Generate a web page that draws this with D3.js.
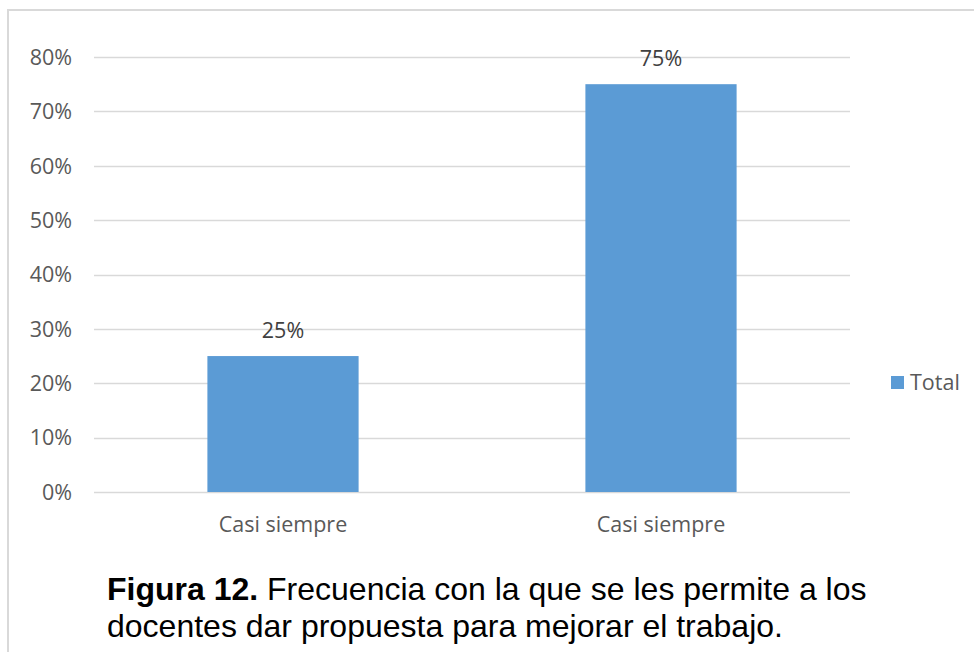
<!DOCTYPE html>
<html>
<head>
<meta charset="utf-8">
<script src="https://cdn.jsdelivr.net/npm/d3@7"></script>
<style>
  html, body { margin: 0; padding: 0; background: #fff; }
  svg { display: block; }
</style>
</head>
<body>
<svg id="chart" width="974" height="652"></svg>
<script>
// Chart data
const categories = ["Casi siempre", "Casi siempre "];
const totals = [0.25, 0.75];
const yTicks = [0, 0.1, 0.2, 0.3, 0.4, 0.5, 0.6, 0.7, 0.8];
const seriesName = "Total";
const captionBold = "Figura 12.";
const captionLine1 = " Frecuencia con la que se les permite a los";
const captionLine2 = "docentes dar propuesta para mejorar el trabajo.";

const svg = d3.select("#chart");
const font = "'Open Sans', sans-serif";
const fontSize = 21.5;
const barColor = "#5b9bd5";
const textColor = "#595959";

// Chart frame (top and left edges)
svg.append("path")
  .attr("d", "M8,652 L8,10 L974,10")
  .attr("fill", "none")
  .attr("stroke", "#d9d9d9")
  .attr("stroke-width", 2);

const plot = { left: 94, right: 850, top: 57, bottom: 492 };

const x = d3.scaleBand()
  .domain(categories)
  .range([plot.left, plot.right])
  .paddingInner(0.6)
  .paddingOuter(0.3);

const y = d3.scaleLinear()
  .domain([0, 0.8])
  .range([plot.bottom, plot.top]);

// Horizontal gridlines
svg.append("g")
  .selectAll("line")
  .data(yTicks)
  .join("line")
  .attr("x1", plot.left)
  .attr("x2", plot.right)
  .attr("y1", d => Math.round(y(d)) + 0.5)
  .attr("y2", d => Math.round(y(d)) + 0.5)
  .attr("stroke", "#d9d9d9")
  .attr("stroke-width", 1.5);

// Y axis labels
const yAxis = d3.axisLeft(y)
  .tickValues(yTicks)
  .tickFormat(d3.format(".0%"))
  .tickSize(0)
  .tickPadding(0);
const gy = svg.append("g")
  .attr("transform", `translate(72,0)`)
  .call(yAxis);
gy.select(".domain").remove();
gy.selectAll("text")
  .attr("fill", textColor)
  .attr("font-family", font)
  .attr("font-size", fontSize)
  .attr("dy", "0.34em");

// Bars
svg.append("g")
  .selectAll("rect")
  .data(totals)
  .join("rect")
  .attr("x", (d, i) => x(categories[i]))
  .attr("width", x.bandwidth())
  .attr("y", d => y(d))
  .attr("height", d => y(0) - y(d))
  .attr("fill", barColor);

// Value labels
svg.append("g")
  .selectAll("text")
  .data(totals)
  .join("text")
  .attr("x", (d, i) => x(categories[i]) + x.bandwidth() / 2)
  .attr("y", d => y(d) - 18.5)
  .attr("text-anchor", "middle")
  .attr("fill", "#404040")
  .attr("font-family", font)
  .attr("font-size", fontSize)
  .text(d => d3.format(".0%")(d));

// Category labels
const xAxis = d3.axisBottom(x).tickSize(0).tickPadding(0);
const gx = svg.append("g")
  .attr("transform", `translate(0,${plot.bottom})`)
  .call(xAxis);
gx.select(".domain").remove();
gx.selectAll("text")
  .attr("fill", textColor)
  .attr("font-family", font)
  .attr("font-size", fontSize)
  .attr("dy", null)
  .attr("y", 40)
  .text(d => d.trim());

// Legend
const legend = svg.append("g").attr("transform", "translate(891,376)");
legend.append("rect")
  .attr("width", 13).attr("height", 13)
  .attr("fill", barColor);
legend.append("text")
  .attr("x", 19).attr("y", 13.5)
  .attr("fill", textColor)
  .attr("font-family", font)
  .attr("font-size", fontSize)
  .text(seriesName);

// Caption
const cap = svg.append("text")
  .attr("font-family", "'Liberation Sans', Arial, sans-serif")
  .attr("font-size", 32)
  .attr("fill", "#000");
const l1 = cap.append("tspan").attr("x", 107).attr("y", 600);
l1.append("tspan").attr("font-weight", "bold").text(captionBold);
l1.append("tspan").text(captionLine1);
cap.append("tspan").attr("x", 107).attr("y", 637).text(captionLine2);
</script>
</body>
</html>
